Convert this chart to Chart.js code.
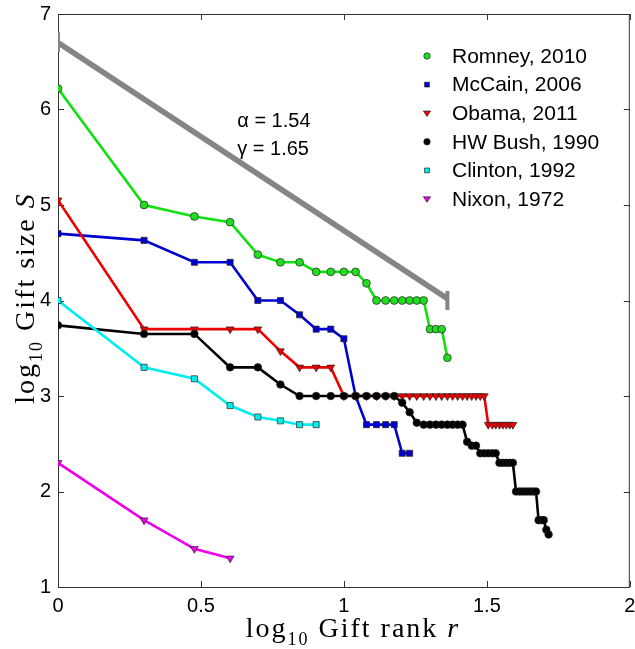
<!DOCTYPE html>
<html>
<head>
<meta charset="utf-8">
<script src="https://cdn.jsdelivr.net/npm/chart.js@4/dist/chart.umd.min.js"></script>
<style>
  html, body { margin: 0; padding: 0; background: #fff; }
  #wrap { width: 635px; height: 649px; }
</style>
</head>
<body>
<div id="wrap"><canvas id="chart"></canvas></div>
<script>
// log10 of gift rank, ranks 1..52
const rankX = [0, 0.301, 0.477, 0.602, 0.699, 0.778, 0.845, 0.903, 0.954, 1.0,
  1.041, 1.079, 1.114, 1.146, 1.176, 1.204, 1.23, 1.255, 1.279, 1.301,
  1.322, 1.342, 1.362, 1.38, 1.398, 1.415, 1.431, 1.447, 1.462, 1.477,
  1.491, 1.505, 1.519, 1.531, 1.544, 1.556, 1.568, 1.58, 1.591, 1.602,
  1.613, 1.623, 1.633, 1.643, 1.653, 1.663, 1.672, 1.681, 1.69, 1.699,
  1.708, 1.716];

// log10 gift size, by rank
const romney = [6.22, 5.0, 4.88, 4.82, 4.48, 4.4, 4.4, 4.3, 4.3, 4.3, 4.3, 4.18,
  4.0, 4.0, 4.0, 4.0, 4.0, 4.0, 4.0, 3.7, 3.7, 3.7, 3.4];
const mccain = [4.7, 4.63, 4.4, 4.4, 4.0, 4.0, 3.85, 3.7, 3.7, 3.6, 3.0,
  2.7, 2.7, 2.7, 2.7, 2.4, 2.4];
const obama = [5.05, 3.7, 3.7, 3.7, 3.7, 3.47, 3.3, 3.3, 3.3,
  3.0, 3.0, 3.0, 3.0, 3.0, 3.0, 3.0, 3.0, 3.0, 3.0, 3.0, 3.0, 3.0, 3.0, 3.0, 3.0,
  3.0, 3.0, 3.0, 3.0, 3.0, 3.0,
  2.7, 2.7, 2.7, 2.7, 2.7, 2.7, 2.7, 2.7];
const bush = [3.74, 3.65, 3.65, 3.3, 3.3, 3.12, 3.0,
  3.0, 3.0, 3.0, 3.0, 3.0, 3.0, 3.0, 3.0,
  2.93, 2.83, 2.72,
  2.7, 2.7, 2.7, 2.7, 2.7, 2.7, 2.7, 2.7,
  2.52, 2.48, 2.48,
  2.4, 2.4, 2.4, 2.4, 2.4,
  2.3, 2.3, 2.3, 2.3, 2.3,
  2.0, 2.0, 2.0, 2.0, 2.0, 2.0, 2.0, 2.0,
  1.7, 1.7, 1.7, 1.6, 1.55];
const clinton = [4.0, 3.3, 3.18, 2.9, 2.78, 2.74, 2.7, 2.7];
const nixon = [2.3, 1.7, 1.4, 1.3];

const seriesLabels = ["Romney, 2010", "McCain, 2006", "Obama, 2011",
  "HW Bush, 1990", "Clinton, 1992", "Nixon, 1972"];

// fitted power law line and its end caps
const fitX = [0, 1.362];
const fitY = [6.7, 4.02];
const fitCapLeft = [6.6, 6.81];
const fitCapRight = [3.9, 4.1];
const fitText = ["\u03b1 = 1.54", "\u03b3 = 1.65"];

const xTicks = [0, 0.5, 1, 1.5, 2];
const yTicks = [1, 2, 3, 4, 5, 6, 7];

function toPoints(values) {
  return values.map((v, i) => ({x: rankX[i], y: v}));
}

const styles = [
  {line: "#11e011", fill: "#22dd22", shape: "circle", r: 3.9, rot: 0},
  {line: "#0000d0", fill: "#0000d0", shape: "rect", r: 4.3, rot: 0},
  {line: "#ee0000", fill: "#ee0000", shape: "triangle", r: 4.5, rot: 180},
  {line: "#000000", fill: "#000000", shape: "circle", r: 3.8, rot: 0},
  {line: "#00eeee", fill: "#00eeee", shape: "rect", r: 4.3, rot: 0},
  {line: "#ee00ee", fill: "#ee00ee", shape: "triangle", r: 4.5, rot: 180}
];
const seriesValues = [romney, mccain, obama, bush, clinton, nixon];

let datasets = seriesValues.map((vals, i) => ({
  label: seriesLabels[i],
  data: toPoints(vals),
  borderColor: styles[i].line,
  backgroundColor: styles[i].fill,
  borderWidth: 2.6,
  pointStyle: styles[i].shape,
  pointRotation: styles[i].rot,
  pointRadius: styles[i].r,
  pointBorderColor: "#222",
  pointBorderWidth: 0.7,
  pointHoverRadius: styles[i].r,
  tension: 0,
  order: 10 - i
}));

const grayLine = {borderColor: "#858585", pointRadius: 0, tension: 0, order: 20};
datasets.push(Object.assign({label: "fit", data: fitX.map((x, i) => ({x: x, y: fitY[i]})), borderWidth: 5.5}, grayLine));
datasets.push(Object.assign({label: "capL", data: fitCapLeft.map(y => ({x: fitX[0], y: y})), borderWidth: 4, borderCapStyle: "butt"}, grayLine));
datasets.push(Object.assign({label: "capR", data: fitCapRight.map(y => ({x: fitX[1], y: y})), borderWidth: 4, borderCapStyle: "butt"}, grayLine));

function drawMarker(ctx, st, x, y, r) {
  ctx.save();
  ctx.fillStyle = st.fill;
  ctx.strokeStyle = "#222";
  ctx.lineWidth = 0.7;
  ctx.beginPath();
  if (st.shape === "circle") {
    ctx.arc(x, y, r, 0, Math.PI * 2);
  } else if (st.shape === "rect") {
    ctx.rect(x - r * 0.75, y - r * 0.75, r * 1.5, r * 1.5);
  } else {
    ctx.moveTo(x - r, y - r * 0.6);
    ctx.lineTo(x + r, y - r * 0.6);
    ctx.lineTo(x, y + r * 0.9);
    ctx.closePath();
  }
  ctx.fill();
  ctx.stroke();
  ctx.restore();
}

function drawMathLabel(ctx, parts, x, y, rotate) {
  // parts: [text, size, dy, italic]
  ctx.save();
  ctx.translate(x, y);
  if (rotate) ctx.rotate(-Math.PI / 2);
  ctx.fillStyle = "#000";
  ctx.textBaseline = "alphabetic";
  ctx.letterSpacing = "2px";
  let total = 0;
  parts.forEach(p => {
    ctx.font = (p[3] ? "italic " : "") + p[1] + "px 'Liberation Serif'";
    total += ctx.measureText(p[0]).width;
  });
  let cx = -total / 2;
  parts.forEach(p => {
    ctx.font = (p[3] ? "italic " : "") + p[1] + "px 'Liberation Serif'";
    ctx.fillText(p[0], cx, p[2]);
    cx += ctx.measureText(p[0]).width;
  });
  ctx.restore();
}

const framePlugin = {
  id: "frame",
  beforeDatasetsDraw(chart) {
    const {ctx, chartArea: a, scales} = chart;
    ctx.save();
    ctx.strokeStyle = "#333";
    ctx.lineWidth = 1;
    ctx.strokeRect(a.left + 0.5, a.top + 0.5, a.right - a.left - 1, a.bottom - a.top);
    ctx.beginPath();
    const tl = 6;
    xTicks.forEach(v => {
      const px = Math.round(scales.x.getPixelForValue(v)) + 0.5;
      ctx.moveTo(px, a.bottom); ctx.lineTo(px, a.bottom - tl);
      ctx.moveTo(px, a.top); ctx.lineTo(px, a.top + tl);
    });
    yTicks.forEach(v => {
      const py = Math.round(scales.y.getPixelForValue(v)) + 0.5;
      ctx.moveTo(a.left, py); ctx.lineTo(a.left + tl, py);
      ctx.moveTo(a.right, py); ctx.lineTo(a.right - tl, py);
    });
    ctx.stroke();
    ctx.restore();
  },
  afterDatasetsDraw(chart) {
    const {ctx, scales} = chart;
    ctx.save();
    ctx.fillStyle = "#000";
    ctx.font = "20px 'Liberation Sans'";
    ctx.textBaseline = "middle";
    const tx = scales.x.getPixelForValue(0.627);
    ctx.fillText(fitText[0], tx, scales.y.getPixelForValue(5.87));
    ctx.fillText(fitText[1], tx, scales.y.getPixelForValue(5.58));

    // legend
    const lx = 427, ly0 = 56, step = 28.6;
    seriesLabels.forEach((lab, i) => {
      const y = ly0 + i * step;
      drawMarker(ctx, styles[i], lx, y, styles[i].shape === "triangle" ? 3.6 : 3.2);
      ctx.fillStyle = "#000";
      ctx.font = "21px 'Liberation Sans'";
      ctx.fillText(lab, 452, y + 1);
    });
    ctx.restore();

    // axis titles
    drawMathLabel(ctx, [["log", 28, 0], ["10", 18, 8], [" Gift rank ", 28, 0], ["r", 28, 0, true]], 353, 637, false);
    drawMathLabel(ctx, [["log", 28, 0], ["10", 18, 8], [" Gift size ", 28, 0], ["S", 28, 0, true]], 34, 298, true);
  }
};

const tickFont = {family: "'Liberation Sans'", size: 20};

new Chart(document.getElementById("chart"), {
  type: "line",
  data: {datasets: datasets},
  options: {
    responsive: true,
    maintainAspectRatio: false,
    animation: false,
    events: [],
    layout: {padding: {top: 14, right: -2, left: 0, bottom: 0}},
    plugins: {legend: {display: false}, tooltip: {enabled: false}},
    scales: {
      x: {
        type: "linear", min: 0, max: 2,
        afterBuildTicks: s => { s.ticks = xTicks.map(v => ({value: v})); },
        afterFit: s => { s.height = 62; s.paddingLeft = 0; s.paddingRight = 0; },
        grid: {display: false, drawTicks: false},
        border: {display: false},
        ticks: {font: tickFont, color: "#000", padding: 7, maxRotation: 0, callback: v => String(v)}
      },
      y: {
        type: "linear", min: 1, max: 7,
        afterBuildTicks: s => { s.ticks = yTicks.map(v => ({value: v})); },
        afterFit: s => { s.width = 58; s.paddingTop = 0; s.paddingBottom = 0; },
        grid: {display: false, drawTicks: false},
        border: {display: false},
        ticks: {font: tickFont, color: "#000", padding: 7, callback: v => String(v)}
      }
    }
  },
  plugins: [framePlugin]
});
</script>
</body>
</html>
